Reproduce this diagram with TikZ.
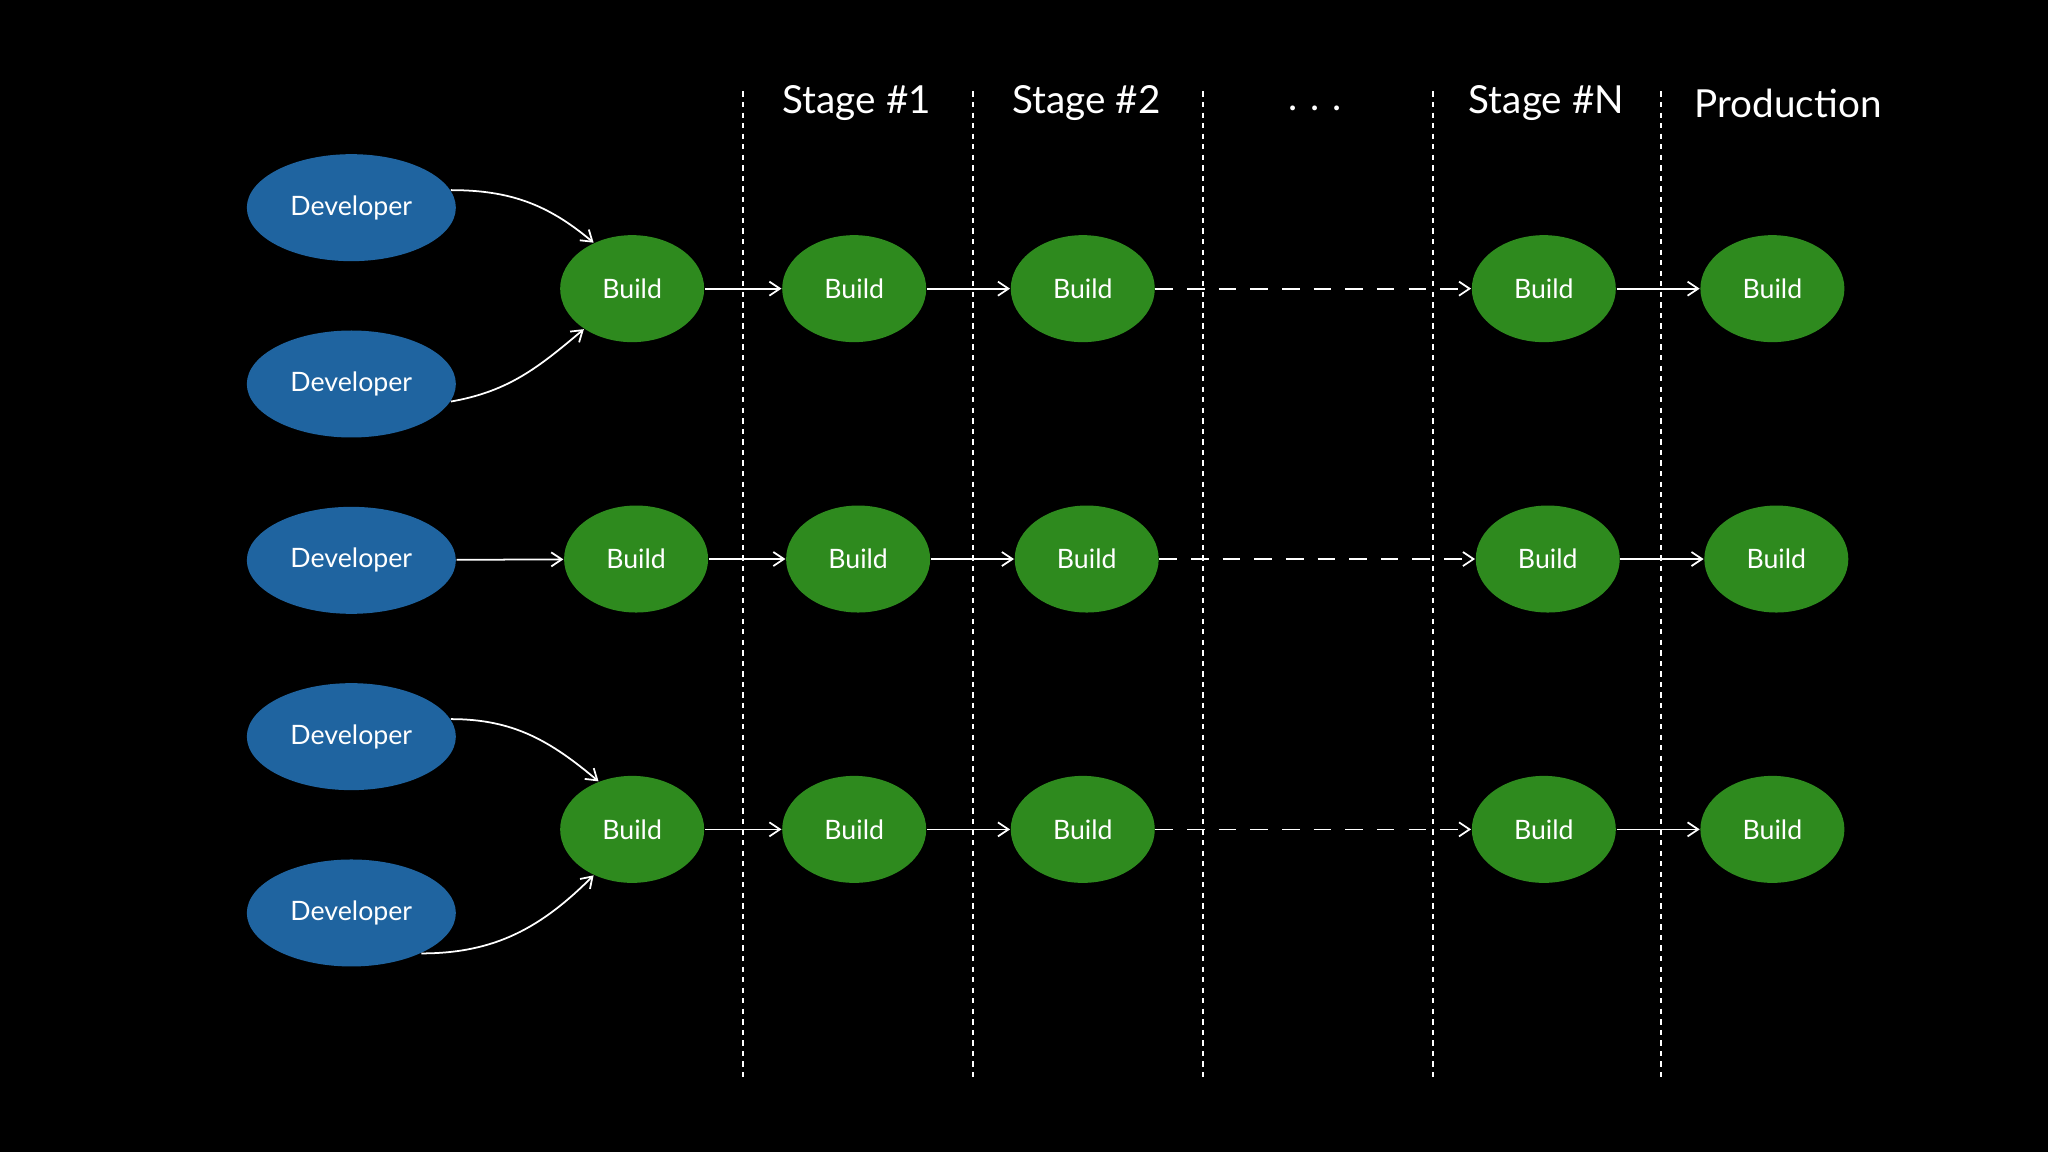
\documentclass[tikz,border=0pt]{standalone}
\usepackage{fontspec}
\setmainfont{Lato}
\usetikzlibrary{arrows.meta,shapes.geometric}
\begin{document}
\begin{tikzpicture}[x=0.01306cm,y=-0.01306cm,
 dev/.style={ellipse,draw=none,fill={rgb,255:red,31;green,100;blue,160},minimum width=2.09cm,minimum height=1.07cm,text=white,font=\fontsize{7.6pt}{9pt}\selectfont,inner sep=0},
 bld/.style={ellipse,draw=none,fill={rgb,255:red,46;green,138;blue,30},minimum width=1.44cm,minimum height=1.07cm,text=white,font=\fontsize{7.6pt}{9pt}\selectfont,inner sep=0},
 hdr/.style={text=white,font=\fontsize{11pt}{13pt}\selectfont},
 arr/.style={draw=white,line width=0.5pt,-{Straight Barb[length=3pt,width=4pt]}},
 dsh/.style={arr,dash pattern=on 5pt off 4pt},
 sep/.style={draw=white,line width=0.6pt,dash pattern=on 1.5pt off 1.5pt}]
\fill[black] (0,0) rectangle (1568,882);
\useasboundingbox (0,0) rectangle (1568,882);
\foreach \x/\n in {569/a,745/b,921/c,1097/d,1272/e}{\coordinate (t\n) at (\x,70); \coordinate (b\n) at (\x,825); \draw[sep] (t\n) -- (b\n);}
\node[hdr] (h1) at (656,79) {Stage \#1};
\node[hdr] (h2) at (832,79) {Stage \#2};
\node[hdr] (h3) at (1007,83) {.\,\,.\,\,.};
\node[hdr] (h4) at (1184,79) {Stage \#N};
\node[hdr] (h5) at (1369,79) {Production};
\node[dev] (d1) at (269,159) {Developer};
\node[dev] (d2) at (269,294) {Developer};
\node[dev] (d3) at (269,429) {Developer};
\node[dev] (d4) at (269,564) {Developer};
\node[dev] (d5) at (269,699) {Developer};
\foreach \r/\y/\o in {1/221/0,2/428/3,3/635/0}{
 \node[bld] (b\r1) at (484+\o,\y) {Build};
 \node[bld] (b\r2) at (654+\o,\y) {Build};
 \node[bld] (b\r3) at (829+\o,\y) {Build};
 \node[bld] (b\r4) at (1182+\o,\y) {Build};
 \node[bld] (b\r5) at (1357+\o,\y) {Build};
 \draw[arr] (b\r1) -- (b\r2);
 \draw[arr] (b\r2) -- (b\r3);
 \draw[dsh] (b\r3) -- (b\r4);
 \draw[arr] (b\r4) -- (b\r5);
}
\draw[arr] (d1.10) to[out=0,in=140] (b11.130);
\draw[arr] (d2.-10) to[out=10,in=220] (b11.-140);
\draw[arr] (d3) -- (b21);
\draw[arr] (d4.10) to[out=0,in=140] (b31.125);
\draw[arr] (d5.-30) to[out=0,in=225] (b31.-130);
\end{tikzpicture}
\end{document}
